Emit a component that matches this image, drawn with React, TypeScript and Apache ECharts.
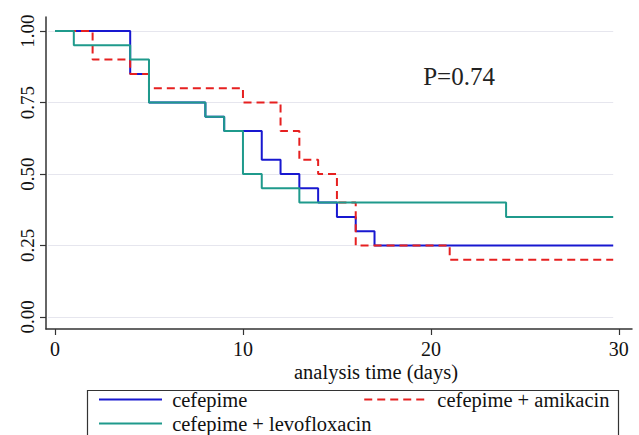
import React, { useEffect, useRef } from "react";
import * as echarts from "echarts";

// Kaplan-Meier step data: time (days) and survival probability
const cefepimeT = [0, 4, 5, 8, 9, 11, 12, 13, 14, 15, 16, 17, 29.7];
const cefepimeS = [1, 0.85, 0.75, 0.7, 0.65, 0.55, 0.5, 0.45, 0.4, 0.35, 0.3, 0.25, 0.25];
const amikacinT = [0, 2, 4, 5, 10, 12, 13, 14, 15, 16, 21, 29.7];
const amikacinS = [1, 0.9, 0.85, 0.8, 0.75, 0.65, 0.55, 0.5, 0.4, 0.25, 0.2, 0.2];
const levoT = [0, 1, 4, 5, 8, 9, 10, 11, 13, 24, 29.7];
const levoS = [1, 0.95, 0.9, 0.75, 0.7, 0.65, 0.5, 0.45, 0.4, 0.35, 0.35];

const seriesNames = ["cefepime", "cefepime + amikacin", "cefepime + levofloxacin"];
const xTicks = [0, 10, 20, 30];
const yTicks = [0, 0.25, 0.5, 0.75, 1];
const gridStart = -0.37;
const gridEnd = 29.7;
const pText = "P=0.74";
const xTitle = "analysis time (days)";

const FONT = "Liberation Serif";

const zip = (t: number[], s: number[]) => t.map((v, i) => [v, s[i]]);

export default function App() {
  const ref = useRef<HTMLDivElement>(null);
  useEffect(() => {
    if (!ref.current) return;
    const chart = echarts.init(ref.current, null, { renderer: "svg" });
    const legendText = { fontFamily: FONT, fontSize: 20.5, color: "#111" };
    const legendFmt = (name: string) => " " + name;
    const option: any = {
      animation: false,
      backgroundColor: "#ffffff",
      grid: { left: 46, right: 7, top: 17, bottom: 106 },
      xAxis: {
        type: "value",
        min: -0.48,
        max: 30.7,
        axisLine: { show: true, onZero: false, lineStyle: { color: "#333", width: 1.5 } },
        axisTick: { show: true, customValues: xTicks, length: 6, lineStyle: { color: "#333", width: 1.2 } },
        axisLabel: {
          customValues: xTicks,
          margin: 10,
          fontFamily: FONT,
          fontSize: 20,
          color: "#111",
        },
        splitLine: { show: false },
      },
      yAxis: {
        type: "value",
        min: -0.042,
        max: 1.049,
        axisLine: { show: true, onZero: false, lineStyle: { color: "#333", width: 1.5 } },
        axisTick: { show: true, customValues: yTicks, length: 6, lineStyle: { color: "#333", width: 1.2 } },
        axisLabel: {
          customValues: yTicks,
          rotate: 90,
          margin: 9,
          fontFamily: FONT,
          fontSize: 19,
          color: "#111",
          formatter: (v: number) => v.toFixed(2),
        },
        splitLine: { show: false },
      },
      legend: [
        {
          data: [seriesNames[0], seriesNames[1]],
          left: 98,
          top: 389,
          padding: 0,
          itemWidth: 63,
          itemHeight: 20,
          itemGap: 116,
          itemStyle: { opacity: 0 },
          formatter: legendFmt,
          textStyle: legendText,
        },
        {
          data: [seriesNames[2]],
          left: 98,
          top: 413,
          padding: 0,
          itemWidth: 63,
          itemHeight: 20,
          itemStyle: { opacity: 0 },
          formatter: legendFmt,
          textStyle: legendText,
        },
      ],
      graphic: [
        {
          type: "rect",
          shape: { x: 87.5, y: 390.5, width: 531, height: 60 },
          style: { fill: "none", stroke: "#333", lineWidth: 1.2 },
          silent: true,
        },
        {
          type: "text",
          x: 459,
          y: 76,
          style: {
            text: pText,
            fontFamily: FONT,
            fontSize: 25,
            fill: "#222",
            textAlign: "center",
            textVerticalAlign: "middle",
          },
        },
        {
          type: "text",
          x: 376,
          y: 372,
          style: {
            text: xTitle,
            fontFamily: FONT,
            fontSize: 20.5,
            fill: "#111",
            textAlign: "center",
            textVerticalAlign: "middle",
          },
        },
      ],
      series: [
        {
          name: seriesNames[0],
          type: "line",
          step: "end",
          symbol: "none",
          data: zip(cefepimeT, cefepimeS),
          lineStyle: { color: "#1818d0", width: 2 },
          itemStyle: { color: "#1818d0" },
          markLine: {
            silent: true,
            z: 1,
            symbol: "none",
            label: { show: false },
            lineStyle: { color: "#e6e6ee", width: 1.2, type: "solid" },
            data: yTicks.map((v) => [{ coord: [gridStart, v] }, { coord: [gridEnd, v] }]),
          },
        },
        {
          name: seriesNames[1],
          type: "line",
          step: "end",
          symbol: "none",
          data: zip(amikacinT, amikacinS),
          lineStyle: { color: "#e62020", width: 2, type: [8, 5] },
          itemStyle: { color: "#e62020" },
        },
        {
          name: seriesNames[2],
          type: "line",
          step: "end",
          symbol: "none",
          data: zip(levoT, levoS),
          lineStyle: { color: "#1f9a8c", width: 2 },
          itemStyle: { color: "#1f9a8c" },
        },
      ],
    };
    chart.setOption(option);
    return () => chart.dispose();
  }, []);
  return (
    <div
      ref={ref}
      style={{ position: "absolute", left: 0, top: 0, width: 639, height: 435, background: "#fff" }}
    />
  );
}
